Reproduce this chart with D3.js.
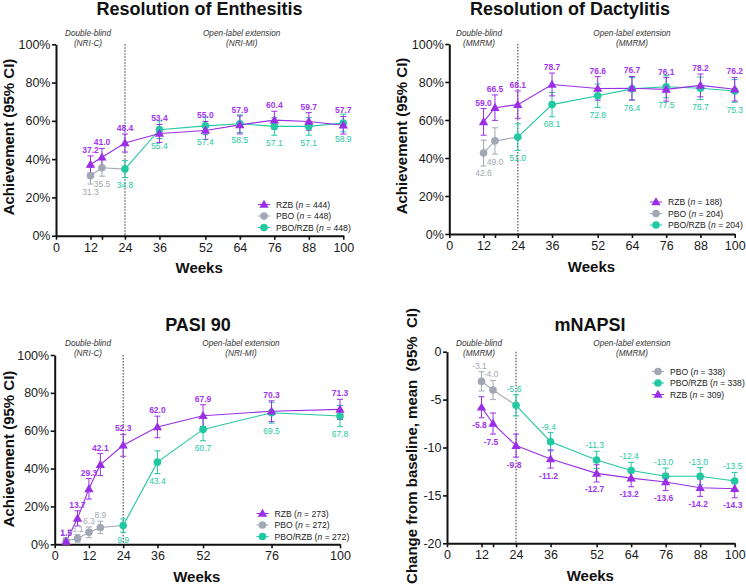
<!DOCTYPE html>
<html>
<head>
<meta charset="utf-8">
<script src="https://cdn.jsdelivr.net/npm/d3@7"></script>
<style>
  body { margin: 0; background: #fff; }
  svg { font-family: "Liberation Sans", Arial, sans-serif; }
</style>
</head>
<body>
<svg id="chart" width="746" height="587"></svg>
<script>
// ---- data ----
// Resolution of Enthesitis
const enthRzbWeeks = [12, 16, 24, 36, 52, 64, 76, 88, 100];
const enthRzb = [37.2, 41.0, 48.4, 53.4, 55.0, 57.9, 60.4, 59.7, 57.7];
const enthRzbCi = [4.5, 4.6, 4.7, 4.7, 4.7, 4.7, 4.6, 4.6, 4.6];
const enthPboWeeks = [12, 16];
const enthPbo = [31.3, 35.5];
const enthPboCi = [4.3, 4.4];
const enthSwWeeks = [24, 36, 52, 64, 76, 88, 100];
const enthSw = [34.8, 55.4, 57.4, 58.5, 57.1, 57.1, 58.9];
const enthSwCi = [4.4, 4.6, 4.6, 4.6, 4.6, 4.6, 4.6];

// Resolution of Dactylitis
const dactRzbWeeks = [12, 16, 24, 36, 52, 64, 76, 88, 100];
const dactRzb = [59.0, 66.5, 68.1, 78.7, 76.6, 76.7, 76.1, 78.2, 76.2];
const dactRzbCi = [7.0, 6.7, 7.2, 6.0, 6.2, 6.2, 6.2, 6.0, 6.2];
const dactPboWeeks = [12, 16];
const dactPbo = [42.6, 49.0];
const dactPboCi = [6.8, 6.9];
const dactSwWeeks = [24, 36, 52, 64, 76, 88, 100];
const dactSw = [51.0, 68.1, 72.8, 76.4, 77.5, 76.7, 75.3];
const dactSwCi = [7.0, 6.4, 6.2, 5.9, 5.8, 5.9, 6.0];

// PASI 90
const pasiRzbWeeks = [4, 8, 12, 16, 24, 36, 52, 76, 100];
const pasiRzb = [1.5, 13.7, 29.3, 42.1, 52.3, 62.0, 67.9, 70.3, 71.3];
const pasiRzbCi = [1.3, 4.0, 5.4, 5.8, 5.8, 5.7, 5.8, 5.5, 5.3];
const pasiPboWeeks = [4, 8, 12, 16];
const pasiPbo = [1.9, 3.1, 6.3, 8.9];
const pasiPboCi = [1.5, 2.0, 2.8, 3.3];
const pasiSwWeeks = [24, 36, 52, 76, 100];
const pasiSw = [9.9, 43.4, 60.7, 69.5, 67.8];
const pasiSwCi = [3.5, 6.0, 6.0, 5.5, 5.5];

// mNAPSI
const napsiRzbWeeks = [12, 16, 24, 36, 52, 64, 76, 88, 100];
const napsiRzb = [-5.8, -7.5, -9.8, -11.2, -12.7, -13.2, -13.6, -14.2, -14.3];
const napsiRzbCi = [1.1, 1.1, 1.2, 0.95, 0.9, 0.9, 0.9, 0.9, 0.95];
const napsiPboWeeks = [12, 16];
const napsiPbo = [-3.1, -4.0];
const napsiPboCi = [1.0, 1.0];
const napsiSwWeeks = [24, 36, 52, 64, 76, 88, 100];
const napsiSw = [-5.6, -9.4, -11.3, -12.4, -13.0, -13.0, -13.5];
const napsiSwCi = [1.1, 0.95, 0.9, 0.85, 0.85, 0.9, 0.9];

const weekTicks = [0, 12, 24, 36, 52, 64, 76, 88, 100];
const pasiWeekTicks = [0, 12, 24, 36, 52, 76, 100];
const pctTicks = [0, 20, 40, 60, 80, 100];
const napsiTicks = [0, -5, -10, -15, -20];

const colors = { rzb: "#9a2fe6", pbo: "#a2a7b4", sw: "#22c8a2" };
const labelColors = { rzb: "#a136f0", pbo: "#a2a7b4", sw: "#22c8a2" };

function series(weeks, vals, ci) {
  return weeks.map((w, i) => ({ w: w, v: vals[i], lo: vals[i] - ci[i], hi: vals[i] + ci[i] }));
}

const panels = [
  {
    title: "Resolution of Enthesitis", titleX: 199.5, titleY: 15,
    x0: 56, x1: 343.3, yBottom: 235.7, yTop: 44.3, domain: [0, 100], yTicks: pctTicks, pct: true,
    xTicks: weekTicks, minor16: true,
    yLabel: "Achievement (95% CI)", yLabelX: 13.5, yLabelY: 137,
    weeksY: 273, db: ["Double-blind", "(NRI-C)"], ol: ["Open-label extension", "(NRI-MI)"],
    dbX: 88, olX: 241.7, annY: 36,
    rzb: series(enthRzbWeeks, enthRzb, enthRzbCi), pbo: series(enthPboWeeks, enthPbo, enthPboCi),
    sw: series(enthSwWeeks, enthSw, enthSwCi),
    side: { rzb: "above", pbo: "below", sw: "below" },
    legend: [["rzb", "RZB", "444"], ["pbo", "PBO", "448"], ["sw", "PBO/RZB", "448"]],
    legX: 264, legY: 204.5
  },
  {
    title: "Resolution of Dactylitis", titleX: 570, titleY: 15,
    x0: 449.3, x1: 734.7, yBottom: 234, yTop: 44, domain: [0, 100], yTicks: pctTicks, pct: true,
    xTicks: weekTicks, minor16: true,
    yLabel: "Achievement (95% CI)", yLabelX: 407, yLabelY: 136,
    weeksY: 271.5, db: ["Double-blind", "(MMRM)"], ol: ["Open-label extension", "(MMRM)"],
    dbX: 479, olX: 632, annY: 36,
    rzb: series(dactRzbWeeks, dactRzb, dactRzbCi), pbo: series(dactPboWeeks, dactPbo, dactPboCi),
    sw: series(dactSwWeeks, dactSw, dactSwCi),
    side: { rzb: "above", pbo: "below", sw: "below" },
    legend: [["rzb", "RZB", "188"], ["pbo", "PBO", "204"], ["sw", "PBO/RZB", "204"]],
    legX: 656, legY: 202
  },
  {
    title: "PASI 90", titleX: 198, titleY: 331,
    x0: 54.7, x1: 340, yBottom: 544.3, yTop: 355, domain: [0, 100], yTicks: pctTicks, pct: true,
    xTicks: pasiWeekTicks, minor16: false,
    yLabel: "Achievement (95% CI)", yLabelX: 13.5, yLabelY: 449,
    weeksY: 581.5, db: ["Double-blind", "(NRI-C)"], ol: ["Open-label extension", "(NRI-MI)"],
    dbX: 88, olX: 241, annY: 346,
    rzb: series(pasiRzbWeeks, pasiRzb, pasiRzbCi), pbo: series(pasiPboWeeks, pasiPbo, pasiPboCi),
    sw: series(pasiSwWeeks, pasiSw, pasiSwCi),
    side: { rzb: "above", pbo: "above", sw: "below" },
    legend: [["rzb", "RZB", "273"], ["pbo", "PBO", "272"], ["sw", "PBO/RZB", "272"]],
    legX: 262.5, legY: 513.5
  },
  {
    title: "mNAPSI", titleX: 590, titleY: 331,
    x0: 447, x1: 734.7, yBottom: 543.3, yTop: 351.7, domain: [-20, 0], yTicks: napsiTicks, pct: false,
    xTicks: weekTicks, minor16: true,
    yLabel: "Change from baseline, mean  (95%  CI)", yLabelX: 417, yLabelY: 446,
    weeksY: 580.5, db: ["Double-blind", "(MMRM)"], ol: ["Open-label extension", "(MMRM)"],
    dbX: 479, olX: 632, annY: 346,
    rzb: series(napsiRzbWeeks, napsiRzb, napsiRzbCi), pbo: series(napsiPboWeeks, napsiPbo, napsiPboCi),
    sw: series(napsiSwWeeks, napsiSw, napsiSwCi),
    side: { rzb: "below", pbo: "above", sw: "above" },
    legend: [["pbo", "PBO", "338"], ["sw", "PBO/RZB", "338"], ["rzb", "RZB", "309"]],
    legX: 658, legY: 371.5
  }
];

const svg = d3.select("#chart");

function marker(g, key, cx, cy) {
  if (key === "rzb") {
    g.append("path")
      .attr("d", d3.symbol().type(d3.symbolTriangle).size(38)())
      .attr("transform", `translate(${cx},${cy + 0.6})`)
      .attr("fill", colors.rzb);
  } else {
    g.append("circle").attr("cx", cx).attr("cy", cy).attr("r", 3.8).attr("fill", colors[key]);
  }
}

panels.forEach(p => {
  const g = svg.append("g");
  const x = d3.scaleLinear().domain([0, 100]).range([p.x0, p.x1]);
  const y = d3.scaleLinear().domain(p.domain).range([p.yBottom, p.yTop]);

  // title
  g.append("text").attr("x", p.titleX).attr("y", p.titleY)
    .attr("text-anchor", "middle").attr("font-size", 18).attr("font-weight", "bold")
    .attr("fill", "#111").text(p.title);

  // period annotations
  [[p.db, p.dbX], [p.ol, p.olX]].forEach(([lines, cx]) => {
    lines.forEach((t, i) => {
      g.append("text").attr("x", cx).attr("y", p.annY + i * 10)
        .attr("text-anchor", "middle").attr("font-size", 8.2).attr("font-style", "italic")
        .attr("fill", "#333").text(t);
    });
  });

  // week 24 divider
  g.append("line").attr("x1", x(24)).attr("x2", x(24))
    .attr("y1", p.yTop).attr("y2", p.yBottom)
    .attr("stroke", "#444").attr("stroke-width", 1.1).attr("stroke-dasharray", "1.5,1.5");

  // axes
  const yAxis = d3.axisLeft(y).tickValues(p.yTicks).tickSize(4).tickSizeOuter(0).tickPadding(1.5)
    .tickFormat(d => p.pct ? d + "%" : d);
  const ya = g.append("g").attr("transform", `translate(${p.x0},0)`).call(yAxis);
  const xTickVals = p.minor16 ? p.xTicks.concat([16]).sort((a, b) => a - b) : p.xTicks;
  const xAxis = d3.axisBottom(x).tickValues(xTickVals).tickSize(4).tickSizeOuter(0).tickPadding(3)
    .tickFormat(d => d === 16 ? "" : d);
  const xa = g.append("g").attr("transform", `translate(0,${p.yBottom})`).call(xAxis);
  [ya, xa].forEach(a => {
    a.select(".domain").attr("stroke", "#111").attr("stroke-width", 2);
    a.selectAll(".tick line").attr("stroke", "#111").attr("stroke-width", 1.6);
    a.selectAll(".tick text").attr("font-size", 12.5).attr("fill", "#1a1a1a")
      .attr("font-family", "Liberation Sans, Arial, sans-serif");
  });

  // axis titles
  g.append("text").attr("x", (p.x0 + p.x1) / 2 - 0.5).attr("y", p.weeksY)
    .attr("text-anchor", "middle").attr("font-size", 15).attr("font-weight", "bold")
    .attr("fill", "#111").text("Weeks");
  g.append("text").attr("transform", `translate(${p.yLabelX},${p.yLabelY}) rotate(-90)`)
    .attr("text-anchor", "middle").attr("font-size", 15).attr("font-weight", "bold")
    .style("white-space", "pre").attr("fill", "#111").text(p.yLabel);

  // lines (placebo connects to first PBO/RZB point at week 24)
  const line = d3.line().x(d => x(d.w)).y(d => y(d.v));
  g.append("path").datum(p.pbo.concat([p.sw[0]])).attr("d", line)
    .attr("fill", "none").attr("stroke", colors.pbo).attr("stroke-width", 1.1);
  g.append("path").datum(p.sw).attr("d", line)
    .attr("fill", "none").attr("stroke", colors.sw).attr("stroke-width", 1.1);
  g.append("path").datum(p.rzb).attr("d", line)
    .attr("fill", "none").attr("stroke", colors.rzb).attr("stroke-width", 1.1);

  // error bars
  ["pbo", "sw", "rzb"].forEach(k => {
    const eb = g.append("g").attr("stroke", colors[k]).attr("stroke-width", 1).attr("fill", "none");
    p[k].forEach(d => {
      eb.append("line").attr("x1", x(d.w)).attr("x2", x(d.w)).attr("y1", y(d.lo)).attr("y2", y(d.hi));
      [d.lo, d.hi].forEach(v => {
        eb.append("line").attr("x1", x(d.w) - 3).attr("x2", x(d.w) + 3).attr("y1", y(v)).attr("y2", y(v));
      });
    });
  });

  // markers
  ["pbo", "sw", "rzb"].forEach(k => {
    p[k].forEach(d => marker(g, k, x(d.w), y(d.v)));
  });

  // value labels
  ["pbo", "sw", "rzb"].forEach(k => {
    p[k].forEach(d => {
      const above = p.side[k] === "above";
      const ly = above ? y(d.hi) - 3 : y(d.lo) + 10.5;
      g.append("text").attr("x", x(d.w) - (p.pct ? 0 : 2)).attr("y", ly)
        .attr("text-anchor", "middle").attr("font-size", 8.5)
        .attr("font-weight", k === "rzb" ? "bold" : "normal")
        .attr("fill", labelColors[k]).text(d.v.toFixed(1));
    });
  });

  // legend
  p.legend.forEach(([k, name, n], i) => {
    const ly = p.legY + i * 11.5;
    g.append("line").attr("x1", p.legX - 6).attr("x2", p.legX + 6).attr("y1", ly).attr("y2", ly)
      .attr("stroke", colors[k]).attr("stroke-width", 1);
    marker(g, k, p.legX, ly);
    const t = g.append("text").attr("x", p.legX + 12).attr("y", ly + 3)
      .attr("font-size", 8.6).attr("fill", "#222");
    t.append("tspan").text(name + " (");
    t.append("tspan").attr("font-style", "italic").text("n");
    t.append("tspan").text(" = " + n + ")");
  });
});
</script>
</body>
</html>
